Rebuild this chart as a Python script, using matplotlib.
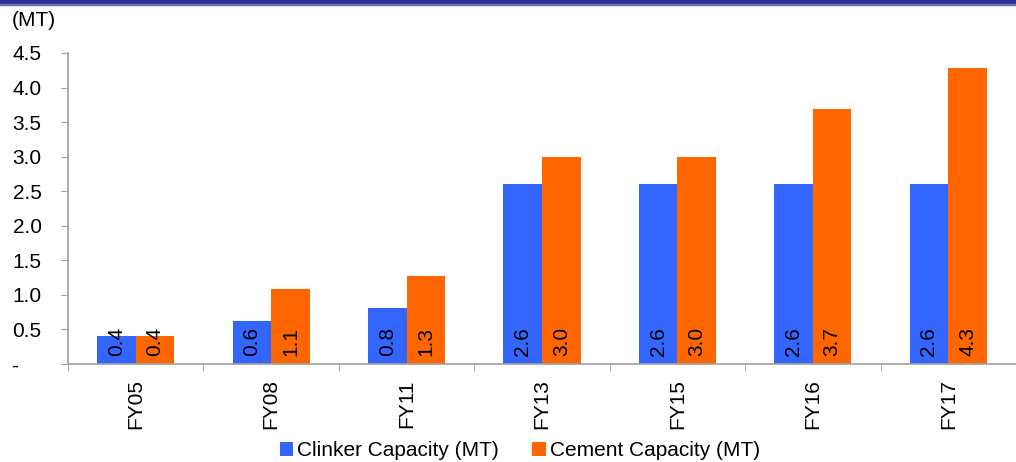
import numpy as np
import matplotlib
matplotlib.use("Agg")
import matplotlib.pyplot as plt
from matplotlib.patches import Rectangle

plt.rcParams['font.family'] = ['Liberation Sans', 'DejaVu Sans']

years = ['FY05', 'FY08', 'FY11', 'FY13', 'FY15', 'FY16', 'FY17']
clinker = [0.4, 0.62, 0.81, 2.6, 2.6, 2.6, 2.6]
cement = [0.4, 1.08, 1.27, 3.0, 3.0, 3.69, 4.28]
yticks = [0, 0.5, 1.0, 1.5, 2.0, 2.5, 3.0, 3.5, 4.0, 4.5]
ytick_labels = ['-    '] + ['{:.1f}'.format(v) for v in yticks[1:]]

blue = '#3366FF'
orange = '#FF6600'
grey = '#A0A0A0'
fs = 15

fig = plt.figure(figsize=(10.16, 4.62), dpi=100)
ax = fig.add_axes([68 / 1016, 1 - 364 / 462, 1 - 68 / 1016, (364 - 53) / 462])

x = np.arange(len(years))
w = 0.285
b1 = ax.bar(x - w / 2, clinker, w, color=blue, label='Clinker Capacity (MT)')
b2 = ax.bar(x + w / 2, cement, w, color=orange, label='Cement Capacity (MT)')

# value labels sit at the foot of each bar, rotated
for bars, vals in ((b1, clinker), (b2, cement)):
    for r, v in zip(bars, vals):
        ax.annotate('{:.1f}'.format(v), (r.get_x() + r.get_width() / 2, 0),
                    xytext=(0, 6), textcoords='offset points',
                    rotation=90, ha='center', va='bottom', fontsize=fs)

ax.set_xlim(-0.5, len(years) - 0.5)
ax.set_ylim(0, 4.5)
ax.set_yticks(yticks)
ax.set_yticklabels(ytick_labels, fontsize=fs)
ax.set_xticks(x)
ax.set_xticklabels(years, rotation=90, fontsize=fs)
ax.set_xticks(np.arange(len(years) + 1) - 0.5, minor=True)
ax.tick_params(axis='x', which='major', length=0, pad=11)
ax.tick_params(axis='x', which='minor', length=5, color=grey)
ax.tick_params(axis='y', length=5, color=grey, pad=14)
for s in ('top', 'right'):
    ax.spines[s].set_visible(False)
for s in ('left', 'bottom'):
    ax.spines[s].set_color(grey)
    ax.spines[s].set_linewidth(1.2)

fig.text(12 / 1016, 1 - 20 / 462, '(MT)', fontsize=fs, va='center', ha='left')

fig.legend(loc='center', bbox_to_anchor=(520 / 1016, 1 - 451 / 462), ncol=2,
           frameon=False, fontsize=fs, handlelength=0.65, handleheight=0.65,
           handletextpad=0.2, columnspacing=1.6, borderpad=0)

# navy band along the top edge
fig.add_artist(Rectangle((0, 1 - 4 / 462), 1, 4 / 462, transform=fig.transFigure,
                         color='#2E3192', zorder=5))
fig.add_artist(Rectangle((0, 1 - 5 / 462), 1, 1 / 462, transform=fig.transFigure,
                         color='#6A6FB8', zorder=5))

fig.savefig('out.png', dpi=100)
